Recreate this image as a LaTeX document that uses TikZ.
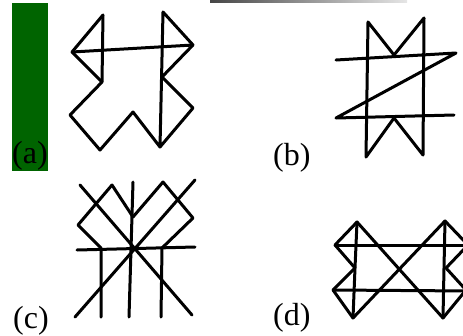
\documentclass[tikz,border=0pt]{standalone}
\usepackage{fontspec}
\setmainfont{Liberation Serif}
\usetikzlibrary{positioning}
\definecolor{tabgreen}{RGB}{0,100,0}
\definecolor{scangray}{RGB}{70,70,70}

\begin{document}
\begin{tikzpicture}[x=1pt, y=-1pt,
    fig/.style={line width=3pt, line join=round, line cap=round},
    tag/.style={anchor=base west, inner sep=0pt, font=\fontsize{32}{32}\selectfont}]

\useasboundingbox (0,0) rectangle (463,335);
\clip (0,0) rectangle (463,335);

% Scan artefacts: green strip on the left, grey bar at the top
\fill[tabgreen] (12,3) rectangle (48,171);
\shade[left color=scangray, right color=gray!20] (210,0) rectangle (407,2.5);

% (a)
\draw[fig] (103,15) -- (72,52) -- (102,82) -- (70,115) -- (100,150) -- (133,112)
           -- (160,147) -- (193,108) -- (162,77) -- (193,45) -- (163,12) -- (160,147);
\draw[fig] (103,15) -- (102,82);
\draw[fig] (72,52) -- (193,45);

% (b)
\draw[fig] (366,157) -- (368,22) -- (394,55) -- (424,18) -- (423,155) -- (394,118) -- cycle;
\draw[fig] (336,60) -- (456,53) -- (336,118) -- (454,115);

% (c)
\draw[fig] (133,182) -- (129,317);
\draw[fig] (77,250) -- (195,247);
\draw[fig] (80,185) -- (192,315);
\draw[fig] (195,180) -- (75,317);
\draw[fig] (101,317) -- (101,248) -- (78,225) -- (112,185) -- (133,217)
           -- (163,182) -- (193,218) -- (162,248) -- (161,317);

% (d)
\draw[fig] (357,222) -- (443,318);
\draw[fig] (353,318) -- (445,221);
\draw[fig] (357,222) -- (355,268) -- (353,318);
\draw[fig] (445,221) -- (444,268) -- (443,318);
\draw[fig] (357,222) -- (335,245) -- (355,268) -- (333,290) -- (353,318);
\draw[fig] (445,221) -- (468,245) -- (446,268) -- (466,290) -- (443,318);
\draw[fig] (335,245) -- (470,245);
\draw[fig] (333,290) -- (470,291);

% labels
\node[tag] (taga) at (12,163) {(a)};
\node[tag] (tagb) at (273,165) {(b)};
\node[tag] (tagc) at (13,328) {(c)};
\node[tag] (tagd) at (273,325) {(d)};

\end{tikzpicture}
\end{document}
